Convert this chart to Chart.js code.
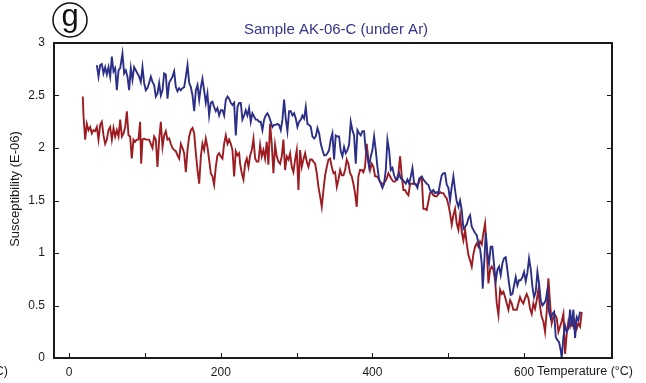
<!DOCTYPE html>
<html>
<head>
<meta charset="utf-8">
<script src="https://cdn.jsdelivr.net/npm/chart.js@4/dist/chart.umd.min.js"></script>
<style>
  html, body { margin: 0; padding: 0; background: #fff; }
  #wrap { width: 646px; height: 383px; }
</style>
</head>
<body>
<div id="wrap"><canvas id="chart" width="646" height="383"></canvas></div>
<script>
// heating run, blue curve
const blueTemp = [
  36.5, 38.7, 40.9, 43.1, 45.3, 47.5, 49.7, 51.9, 54.1, 56.3, 58.5, 60.7, 62.9, 65.1, 67.3, 70.3,
  72.5, 74.7, 76.9, 79.1, 81.3, 83.5, 85.7, 87.9, 90.1, 92.3, 94.5, 96.7, 98.9, 101.1, 103.3, 105.5,
  107.7, 109.9, 112.1, 114.3, 116.5, 118.7, 120.9, 123.1, 125.3, 127.5, 129.7, 131.9, 134.1, 136.3,
  138.5, 140.7, 142.9, 145.1, 147.3, 149.5, 151.7, 153.9, 156.1, 158.3, 160.5, 162.7, 164.9, 167.1,
  169.3, 171.5, 173.7, 175.8, 178.0, 180.2, 182.4, 184.6, 186.8, 189.0, 191.2, 193.4, 195.6, 197.8,
  200.0, 202.2, 204.4, 206.6, 208.8, 211.0, 213.2, 215.4, 217.6, 219.8, 222.0, 224.2,
  226.4, 228.5, 230.8, 232.9, 235.1, 237.3, 239.5, 241.7, 243.9, 246.1, 248.3, 250.5, 252.7, 254.9,
  257.1, 259.3, 261.5, 263.7, 265.9, 268.1, 270.3, 272.5, 274.7, 276.9, 279.1, 281.3, 283.5, 285.7,
  287.9, 290.1, 292.3, 294.5, 296.7, 298.9, 301.1, 303.3, 305.5, 307.7, 309.9, 312.1, 314.3, 316.5,
  318.7, 320.9, 323.1, 325.3, 327.5, 329.7, 331.9, 334.1, 336.3, 338.5, 340.7, 342.8, 345.0, 347.2,
  349.4, 351.6, 353.8, 356.0, 358.2, 360.4, 362.6, 364.8, 367.0, 369.2, 371.4, 373.6, 375.8, 378.0,
  380.2, 382.4, 384.6, 386.8, 389.0, 391.2, 393.4, 395.6, 397.8, 400.0, 402.2, 404.4, 406.6, 408.8,
  411.0, 413.2, 415.4, 417.6, 419.8, 422.0, 424.2, 426.4, 428.6, 430.8, 433.0, 435.2, 437.4, 439.6,
  441.8, 444.0, 446.2, 448.4, 450.6, 452.8, 455.0, 457.2, 459.4, 461.6,
  465.1, 467.2, 469.4, 471.6, 473.8, 476.0, 478.2, 480.4, 482.6, 484.8, 487.0, 489.2, 491.4, 493.6,
  495.8, 498.0, 500.2, 502.4, 504.6, 506.8, 509.0, 511.2, 513.4, 515.6, 517.8, 520.0, 522.2, 524.4,
  526.6, 528.8, 531.0, 533.2, 535.4, 537.6, 539.8, 542.0, 544.2, 545.5, 547.3, 549.5, 551.6, 553.8,
  556.0, 558.2, 560.4, 562.6, 564.8, 567.0, 569.2, 571.4, 573.6, 575.8, 578.0, 580.2, 582.4, 584.6,
  586.8, 589.0, 591.2, 593.4, 595.6, 597.8, 600.0, 602.2, 604.4, 606.6, 608.8, 611.0, 613.2, 615.4,
  617.6, 619.8, 622.0, 624.2, 626.4, 628.6, 630.8, 633.0, 635.2, 637.4, 639.6, 641.8, 644.0, 646.2,
  648.4, 649.7, 651.9, 654.1, 656.3, 658.5, 660.7, 662.9, 665.1, 667.3, 669.5, 671.7, 673.9
];
const blueSusc = [
  2.79, 2.68, 2.79, 2.80, 2.71, 2.77, 2.70, 2.77, 2.68, 2.87, 2.73, 2.76, 2.55, 2.74, 2.76, 2.90,
  2.71, 2.74, 2.68, 2.55, 2.76, 2.65, 2.77, 2.74, 2.71, 2.68, 2.63, 2.77, 2.62, 2.55, 2.57, 2.62,
  2.68, 2.63, 2.60, 2.49, 2.52, 2.62, 2.50, 2.55, 2.71, 2.70, 2.47, 2.62, 2.65, 2.68,
  2.73, 2.58, 2.54, 2.57, 2.55, 2.57, 2.58, 2.68, 2.79, 2.62, 2.58, 2.50, 2.35, 2.55,
  2.60, 2.46, 2.58, 2.66, 2.55, 2.43, 2.52, 2.31, 2.43, 2.44, 2.39, 2.35, 2.38, 2.31,
  2.36, 2.36, 2.31, 2.46, 2.49, 2.47, 2.43, 2.41, 2.43, 2.12, 2.39, 2.43,
  2.43, 2.27, 2.31, 2.36, 2.31, 2.38, 2.25, 2.33, 2.30, 2.27, 2.27, 2.25, 2.25, 2.17,
  2.27, 2.31, 2.33, 2.30, 2.25, 2.20, 2.22, 2.22, 2.23, 2.22, 2.17, 2.27, 2.46, 2.28,
  2.16, 2.35, 2.35, 2.31, 2.33, 2.28, 2.20, 2.25, 2.27, 2.31, 2.28, 2.39, 2.23, 2.22,
  2.20, 2.11, 2.09, 2.11, 2.19, 2.14, 2.04, 1.98, 1.93, 1.93, 1.95, 1.98, 2.08, 2.14,
  1.89, 2.12, 2.11, 2.11, 1.97, 1.92, 2.01, 1.95, 1.98, 2.03, 2.25, 2.17, 2.12, 1.85,
  2.17, 2.14, 2.12, 2.16, 2.16, 1.98, 1.92, 1.82, 1.92, 1.98, 2.11, 1.98, 1.82, 1.70,
  1.66, 1.62, 1.66, 1.79, 2.08, 1.98, 1.79, 1.81, 1.74, 1.70, 1.70, 1.76, 1.71, 1.70,
  1.68, 1.66, 1.70, 1.66, 1.73, 1.81, 1.66, 1.65, 1.62, 1.71,
  1.73, 1.70, 1.68, 1.66, 1.65, 1.60, 1.58, 1.60, 1.57, 1.58, 1.57, 1.66, 1.74, 1.76,
  1.76, 1.65, 1.62, 1.50, 1.63, 1.73, 1.60, 1.49, 1.44, 1.50, 1.41, 1.23, 1.25, 1.27,
  1.33, 1.36, 1.25, 1.22, 1.19, 1.17, 1.09, 1.04, 0.90, 0.66, 0.89, 1.19, 1.00, 0.90,
  1.06, 1.06, 0.89, 0.73, 0.84, 0.87, 0.79, 0.90, 0.95, 0.96, 0.84, 0.71, 0.60, 0.61,
  0.69, 0.77, 0.69, 0.74, 0.74, 0.77, 0.82, 0.73, 0.81, 0.95, 0.85, 0.68, 0.58, 0.63,
  0.82, 0.71, 0.55, 0.50, 0.52, 0.55, 0.65, 0.44, 0.38, 0.42, 0.44, 0.20, 0.17, 0.15,
  0.07, 0.00, 0.20, 0.31, 0.25, 0.28, 0.46, 0.30, 0.46, 0.19, 0.39, 0.36, 0.44
];

// red curve
const redTemp = [
  18.0, 18.9, 21.1, 23.3, 25.5, 27.7, 29.9, 32.1, 34.3, 36.5, 38.7, 40.9, 43.1, 45.3, 47.5, 49.7,
  51.9, 54.1, 56.3, 58.5, 60.7, 62.9, 65.1, 67.3, 69.5, 71.7, 73.9, 76.1, 78.3, 80.4, 82.6, 84.8,
  87.0, 89.2, 91.4, 93.6, 95.0, 96.7, 98.9, 101.1, 103.3, 105.5, 107.7, 109.9, 112.1, 114.3, 116.5,
  118.7, 120.9, 123.1, 125.3, 127.5, 129.7, 131.9, 134.1, 136.3, 138.5, 140.7, 142.9, 145.1, 147.3,
  149.5, 151.7, 153.9, 156.1, 158.3, 160.5, 162.7, 164.9, 167.1, 169.3, 171.5, 173.7, 175.8, 178.0,
  180.2, 182.4, 184.6, 186.8, 189.0, 191.2, 193.4, 195.6, 197.8, 200.0, 202.2, 204.4, 206.6, 208.8,
  211.0, 213.2, 215.4, 217.6, 219.8, 222.0, 224.2,
  225.5, 227.7, 229.9, 232.1, 234.3, 236.5, 238.7, 240.9, 243.1, 245.3, 247.5, 249.7, 251.9, 254.1,
  256.2, 258.4, 260.6, 262.8, 265.0, 267.2, 269.4, 271.6, 273.8, 276.0, 278.2, 280.4, 282.6, 284.8,
  287.0, 289.2, 291.4, 293.6, 295.8, 298.0, 300.2, 302.4, 304.6, 306.8, 309.0, 311.2, 313.4, 315.6,
  317.8, 320.0, 322.2, 324.4, 326.6, 328.8, 331.0, 333.2, 335.4, 337.6, 339.8, 342.0, 344.2, 346.4,
  348.6, 350.8, 353.0, 355.2, 357.4, 359.6, 361.8, 364.0, 366.1, 368.3, 370.5, 372.7, 374.9, 377.1,
  379.3, 381.5, 383.7, 385.9, 388.1, 390.3, 392.5, 394.7, 396.9, 399.1, 401.3, 403.5, 405.7, 407.9,
  410.1, 412.3, 414.5, 416.7, 418.9, 421.1, 423.3, 425.5, 427.7, 429.9, 432.1, 434.3, 436.5, 438.7,
  440.9, 443.1, 445.3, 447.5, 449.7, 451.9, 454.1, 456.3, 458.5, 460.7,
  462.9, 465.1, 467.2, 469.4, 471.6, 473.8, 476.0, 478.2, 480.4, 482.6, 484.8, 487.0, 489.2, 491.4,
  493.6, 495.8, 498.0, 500.2, 502.4, 504.6, 506.8, 509.0, 511.2, 513.4, 515.6, 517.8, 520.0, 522.2,
  524.4, 526.6, 528.8, 531.0, 533.2, 535.4, 537.6, 539.8, 542.0, 544.2, 546.4, 548.6, 550.8, 553.0,
  555.2, 557.4, 559.6, 561.8, 564.0, 566.2, 568.4, 570.6, 572.8, 575.0, 577.2, 579.4, 581.6, 583.7,
  585.9, 588.1, 590.3, 592.5, 594.7, 596.9, 599.1, 601.3, 603.5, 605.7, 607.9, 610.1, 612.3, 614.5,
  616.7, 618.9, 621.1, 623.3, 625.5, 627.7, 629.9, 632.1, 634.3, 636.5, 638.7, 640.9, 643.1, 645.3,
  647.5, 649.7, 651.9, 654.1, 656.3, 658.5, 660.7, 662.9, 665.1, 667.3, 669.5, 671.7, 673.9, 676.1
];
const redSusc = [
  2.49, 2.31, 2.08, 2.23, 2.17, 2.20, 2.14, 2.17, 2.16, 2.20, 2.08, 2.22, 2.25, 2.12, 2.04, 2.08,
  2.17, 2.20, 2.08, 2.19, 2.11, 2.17, 2.11, 2.27, 2.11, 2.14, 2.20, 2.35, 2.12, 2.11, 1.90, 2.08,
  2.06, 2.08, 2.08, 2.25, 1.85, 2.08, 2.09, 2.08, 2.08, 2.08, 2.04, 2.00, 2.11, 2.08, 1.82,
  2.08, 2.25, 2.01, 2.12, 2.16, 2.08, 2.09, 2.04, 2.00, 1.98, 1.97, 1.93, 1.90, 2.04,
  2.00, 1.95, 1.77, 1.98, 2.11, 2.17, 2.19, 2.14, 1.95, 1.79, 1.66, 1.92, 2.04, 1.98,
  2.09, 2.01, 1.89, 1.76, 1.73, 1.65, 1.82, 1.93, 1.95, 1.92, 1.90, 2.04, 2.12, 2.04,
  2.08, 2.04, 1.98, 1.73, 1.97, 1.93, 1.95,
  1.85, 1.76, 1.70, 1.85, 1.90, 1.82, 1.93, 1.98, 2.09, 1.90, 1.87, 1.87, 2.03, 1.92,
  1.98, 1.90, 2.06, 1.84, 2.23, 2.04, 1.76, 2.03, 1.92, 1.87, 1.85, 1.92, 2.08, 1.79,
  1.92, 1.89, 1.95, 1.82, 1.77, 1.89, 1.98, 1.60, 1.98, 1.82, 1.89, 1.95, 1.87, 1.82,
  1.89, 1.89, 1.87, 1.85, 1.76, 1.63, 1.54, 1.44, 1.60, 1.74, 1.82, 1.89, 1.90, 1.82,
  1.76, 1.77, 1.63, 1.70, 1.79, 1.74, 1.74, 1.79, 1.89, 1.85, 1.76, 1.73, 1.66, 1.57,
  1.44, 1.73, 1.79, 1.79, 1.77, 1.82, 2.04, 1.89, 1.79, 1.85, 1.82, 1.73, 1.73, 1.71,
  1.68, 1.66, 1.66, 1.68, 1.71, 1.76, 1.73, 1.70, 1.68, 1.68, 1.70, 1.76, 1.92, 1.73,
  1.60, 1.60, 1.57, 1.55, 1.66, 1.66, 1.66, 1.66, 1.65, 1.66,
  1.70, 1.71, 1.42, 1.42, 1.41, 1.49, 1.57, 1.58, 1.55, 1.54, 1.54, 1.56, 1.58, 1.57,
  1.57, 1.54, 1.52, 1.46, 1.38, 1.27, 1.36, 1.42, 1.28, 1.22, 1.36, 1.20, 1.12, 1.22,
  1.09, 0.98, 0.93, 0.87, 0.99, 1.06, 1.09, 1.06, 1.11, 1.08, 1.19, 1.28, 1.03, 0.71,
  0.84, 0.87, 0.84, 0.74, 0.52, 0.41, 0.65, 0.61, 0.63, 0.58, 0.52, 0.46, 0.55, 0.52,
  0.46, 0.46, 0.46, 0.52, 0.58, 0.54, 0.52, 0.57, 0.61, 0.57, 0.47, 0.42, 0.52, 0.47,
  0.55, 0.65, 0.49, 0.39, 0.35, 0.25, 0.44, 0.76, 0.52, 0.33, 0.39, 0.41, 0.38, 0.25,
  0.30, 0.35, 0.42, 0.04, 0.23, 0.35, 0.30, 0.36, 0.30, 0.35, 0.28, 0.33, 0.30, 0.44
];

const xTicks = [0, 100, 200, 300, 400, 500, 600];
const yTicks = [0, 0.5, 1, 1.5, 2, 2.5, 3];

const FONT = 'Liberation Sans, Arial, Helvetica, sans-serif';

function toPoints(xs, ys) {
  return xs.map((x, i) => ({ x, y: ys[i] }));
}

// frame, inward tick marks and the free-standing labels
const decorations = {
  id: 'decorations',
  afterDraw(chart) {
    const { ctx, chartArea: a, scales } = chart;
    ctx.save();

    ctx.strokeStyle = '#1a1a1a';
    ctx.lineWidth = 1;
    ctx.beginPath();
    yTicks.forEach(v => {
      const y = Math.round(scales.y.getPixelForValue(v)) + 0.5;
      ctx.moveTo(a.left, y); ctx.lineTo(a.left + 5, y);
      ctx.moveTo(a.right, y); ctx.lineTo(a.right - 5, y);
    });
    xTicks.forEach(v => {
      const x = Math.round(scales.x.getPixelForValue(v)) + 0.5;
      ctx.moveTo(x, a.bottom); ctx.lineTo(x, a.bottom - 5);
    });
    ctx.stroke();

    ctx.lineWidth = 2;
    ctx.strokeRect(a.left, a.top, a.right - a.left, a.bottom - a.top);

    ctx.fillStyle = '#1a1a1a';
    ctx.font = '12.5px ' + FONT;
    ctx.textBaseline = 'middle';
    ctx.textAlign = 'left';
    ctx.fillText('Temperature (°C)', 537, 372);
    ctx.textAlign = 'right';
    ctx.fillText('Temperature (°C)', 8, 372);

    ctx.save();
    ctx.translate(15, 189);
    ctx.rotate(-Math.PI / 2);
    ctx.textAlign = 'center';
    ctx.font = '13px ' + FONT;
    ctx.fillText('Susceptibility (E-06)', 0, 0);
    ctx.restore();

    ctx.fillStyle = '#34348c';
    ctx.font = '15px ' + FONT;
    ctx.textAlign = 'center';
    ctx.fillText('Sample AK-06-C (under Ar)', 336, 30);

    // panel letter
    ctx.strokeStyle = '#111';
    ctx.lineWidth = 1.5;
    ctx.beginPath();
    ctx.arc(70, 20, 17, 0, Math.PI * 2);
    ctx.stroke();
    ctx.fillStyle = '#111';
    ctx.font = '31px ' + FONT;
    ctx.textBaseline = 'alphabetic';
    ctx.fillText('g', 70, 26);

    ctx.restore();
  }
};

new Chart(document.getElementById('chart'), {
  type: 'line',
  data: {
    datasets: [
      {
        label: 'blue',
        data: toPoints(blueTemp, blueSusc),
        borderColor: '#2c2f88',
        borderWidth: 1.9,
        pointRadius: 0,
        tension: 0,
        fill: false
      },
      {
        label: 'red',
        data: toPoints(redTemp, redSusc),
        borderColor: '#9c1c22',
        borderWidth: 1.9,
        pointRadius: 0,
        tension: 0,
        fill: false
      }
    ]
  },
  options: {
    responsive: false,
    animation: false,
    devicePixelRatio: 1,
    layout: { padding: { top: 43, right: 34, left: 0, bottom: 0 } },
    plugins: {
      legend: { display: false },
      tooltip: { enabled: false }
    },
    scales: {
      x: {
        type: 'linear',
        min: -20,
        max: 716,
        grid: { display: false, drawTicks: false },
        border: { display: false },
        afterBuildTicks: s => { s.ticks = xTicks.map(value => ({ value })); },
        afterFit: s => { s.height = 25; },
        ticks: {
          autoSkip: false,
          maxRotation: 0,
          padding: 7,
          color: '#1a1a1a',
          font: { family: FONT, size: 12 },
          callback: v => (v % 200 === 0 ? String(v) : '')
        }
      },
      y: {
        min: 0,
        max: 3,
        grid: { display: false, drawTicks: false },
        border: { display: false },
        afterBuildTicks: s => { s.ticks = yTicks.map(value => ({ value })); },
        afterFit: s => { s.width = 54; },
        ticks: {
          padding: 9,
          color: '#1a1a1a',
          font: { family: FONT, size: 12 },
          callback: v => String(v)
        }
      }
    }
  },
  plugins: [decorations]
});
</script>
</body>
</html>
